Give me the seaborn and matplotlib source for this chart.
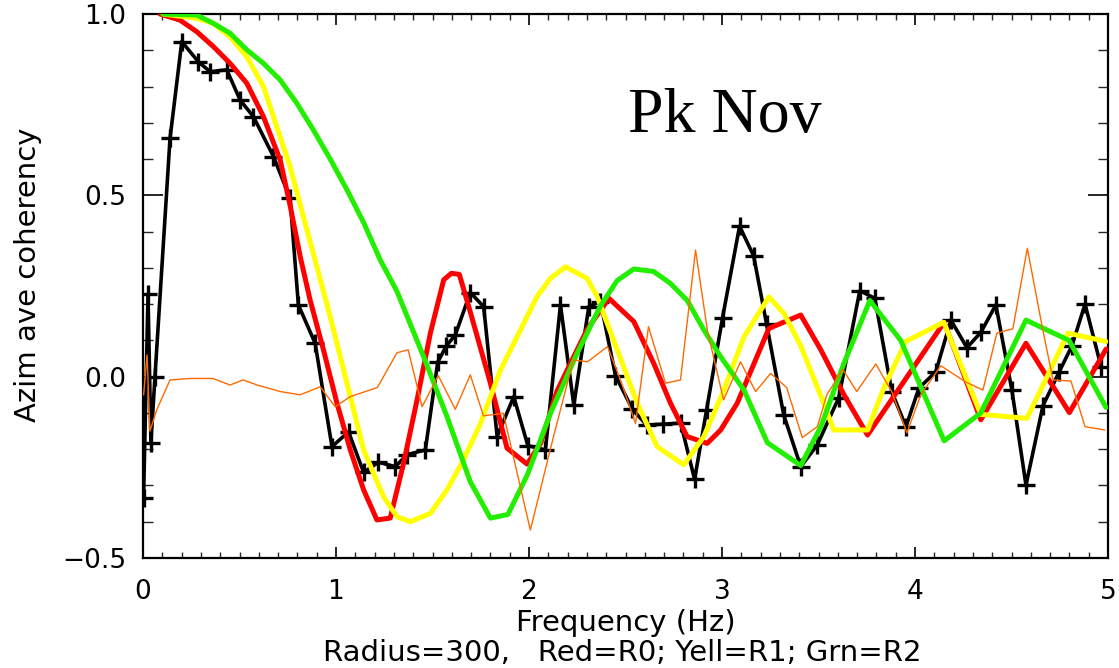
import numpy as np
import pandas as pd
import matplotlib
matplotlib.use("Agg")
import matplotlib.pyplot as plt
from matplotlib.ticker import MultipleLocator, FixedLocator
import seaborn as sns

# ---------------- data ----------------
black_f = [0.003, 0.026, 0.041, 0.062, 0.140, 0.201, 0.287, 0.348, 0.434, 0.503,
           0.572, 0.676, 0.762, 0.805, 0.892, 0.979, 1.065, 1.143, 1.220, 1.307,
           1.369, 1.463, 1.527, 1.572, 1.618, 1.696, 1.765, 1.835, 1.921, 1.994,
           2.085, 2.163, 2.232, 2.310, 2.370, 2.448, 2.536, 2.609, 2.692, 2.786,
           2.858, 2.920, 3.003, 3.091, 3.164, 3.231, 3.320, 3.408, 3.494, 3.605,
           3.714, 3.792, 3.880, 3.953, 4.020, 4.108, 4.186, 4.269, 4.341, 4.419,
           4.502, 4.575, 4.663, 4.746, 4.813, 4.881, 4.964]
black_y = [-0.334, 0.228, -0.183, 0.000, 0.657, 0.924, 0.868, 0.841, 0.846, 0.763,
           0.717, 0.607, 0.492, 0.198, 0.092, -0.193, -0.152, -0.264, -0.236, -0.248,
           -0.215, -0.202, 0.040, 0.085, 0.115, 0.232, 0.193, -0.165, -0.055, -0.190,
           -0.202, 0.198, -0.078, 0.193, 0.207, 0.003, -0.090, -0.133, -0.131, -0.128,
           -0.283, -0.092, 0.163, 0.415, 0.333, 0.145, -0.106, -0.248, -0.188, -0.058,
           0.237, 0.216, -0.042, -0.138, -0.032, 0.014, 0.156, 0.080, 0.122, 0.198,
           -0.037, -0.299, -0.080, 0.012, 0.085, 0.200, 0.028]

red_f = [0.088, 0.192, 0.279, 0.365, 0.451, 0.538, 0.624, 0.711, 0.763, 0.815,
         0.866, 0.935, 1.005, 1.074, 1.143, 1.212, 1.281, 1.350, 1.420, 1.489,
         1.558, 1.598, 1.639, 1.695, 1.800, 1.886, 1.990, 2.060, 2.145, 2.215,
         2.301, 2.414, 2.543, 2.646, 2.733, 2.819, 2.923, 2.993, 3.079, 3.243,
         3.408, 3.512, 3.632, 3.754, 4.151, 4.341, 4.575, 4.800, 4.990]
red_y = [1.000, 0.983, 0.951, 0.910, 0.864, 0.809, 0.717, 0.597, 0.470, 0.330,
         0.211, 0.074, -0.073, -0.202, -0.312, -0.395, -0.390, -0.239, -0.064, 0.120,
         0.267, 0.285, 0.282, 0.180, -0.018, -0.197, -0.241, -0.184, -0.040, 0.037,
         0.130, 0.216, 0.152, 0.037, -0.073, -0.165, -0.184, -0.147, -0.073, 0.133,
         0.170, 0.074, -0.050, -0.161, 0.150, -0.119, 0.092, -0.099, 0.076]

yell_f = [0.104, 0.279, 0.365, 0.451, 0.538, 0.624, 0.693, 0.762, 0.831, 0.901,
          0.970, 1.057, 1.143, 1.246, 1.316, 1.385, 1.489, 1.575, 1.660, 1.748,
          1.852, 1.938, 2.042, 2.111, 2.189, 2.301, 2.353, 2.457, 2.561, 2.664,
          2.802, 2.906, 3.010, 3.114, 3.243, 3.320, 3.408, 3.527, 3.579, 3.755,
          3.838, 3.952, 4.149, 4.341, 4.580, 4.793, 4.990]
yell_y = [1.000, 0.988, 0.974, 0.937, 0.882, 0.800, 0.689, 0.579, 0.441, 0.303,
          0.165, -0.018, -0.202, -0.331, -0.386, -0.400, -0.377, -0.312, -0.230, -0.130,
          0.018, 0.110, 0.221, 0.271, 0.303, 0.271, 0.221, 0.074, -0.073, -0.193,
          -0.243, -0.165, -0.037, 0.110, 0.220, 0.175, 0.085, -0.073, -0.147, -0.147,
          -0.032, 0.097, 0.150, -0.104, -0.115, 0.120, 0.097]

grn_f = [0.104, 0.279, 0.365, 0.451, 0.538, 0.624, 0.711, 0.797, 0.883, 0.970,
         1.057, 1.143, 1.229, 1.316, 1.454, 1.575, 1.696, 1.800, 1.891, 1.992,
         2.111, 2.249, 2.370, 2.457, 2.543, 2.646, 2.733, 2.820, 2.906, 2.993,
         3.114, 3.235, 3.408, 3.512, 3.632, 3.766, 3.926, 4.151, 4.341, 4.575,
         4.798, 4.990]
grn_y = [1.000, 0.997, 0.974, 0.947, 0.901, 0.864, 0.818, 0.754, 0.680, 0.600,
         0.515, 0.425, 0.322, 0.235, 0.055, -0.110, -0.290, -0.390, -0.380, -0.270,
         -0.101, 0.064, 0.195, 0.265, 0.297, 0.290, 0.257, 0.210, 0.129, 0.055,
         -0.037, -0.182, -0.245, -0.138, 0.037, 0.210, 0.100, -0.177, -0.100, 0.156,
         0.100, -0.085]

org_f = [0.003, 0.021, 0.036, 0.071, 0.140, 0.244, 0.363, 0.451, 0.519, 0.591,
         0.711, 0.814, 0.918, 0.996, 1.074, 1.214, 1.316, 1.374, 1.446, 1.530,
         1.618, 1.696, 1.764, 1.867, 2.007, 2.127, 2.230, 2.303, 2.407, 2.474,
         2.552, 2.619, 2.707, 2.785, 2.863, 2.925, 3.008, 3.096, 3.174, 3.252,
         3.335, 3.416, 3.494, 3.543, 3.626, 3.698, 3.797, 3.880, 3.958, 4.030,
         4.134, 4.264, 4.352, 4.424, 4.507, 4.582, 4.660, 4.715, 4.808, 4.881,
         4.984]
org_y = [-0.050, 0.060, -0.150, -0.092, -0.009, -0.005, -0.005, -0.023, -0.009, -0.023,
         -0.041, -0.050, -0.028, -0.083, -0.055, -0.030, 0.066, 0.074, -0.083, 0.003,
         -0.090, 0.005, -0.108, -0.101, -0.423, -0.165, 0.046, 0.041, 0.083, -0.009,
         -0.129, 0.138, -0.018, -0.009, 0.349, 0.125, -0.064, 0.041, -0.041, 0.009,
         -0.030, -0.168, -0.138, -0.050, 0.020, -0.041, 0.035, -0.042, -0.155, -0.050,
         0.030, -0.015, -0.037, 0.120, 0.132, 0.354, 0.135, -0.009, -0.012, -0.138,
         -0.147]

xtick_vals = [0, 1, 2, 3, 4, 5]
xtick_labels = ["0", "1", "2", "3", "4", "5"]
ytick_vals = [-0.5, 0.0, 0.5, 1.0]
ytick_labels = ["\u22120.5", "0.0", "0.5", "1.0"]

title_text = "Pk Nov"
xlabel_text = "Frequency (Hz)"
ylabel_text = "Azim ave coherency"
caption_text = "Radius=300,   Red=R0; Yell=R1; Grn=R2"

# ---------------- plotting ----------------
sns.set_theme(style="ticks")
plt.rcParams['font.family'] = ['DejaVu Sans']

W, H = 1119, 668
fig = plt.figure(figsize=(W / 100, H / 100), dpi=100)
fig.patch.set_facecolor("white")
ax = fig.add_axes([143 / W, 1 - 558 / H, 965 / W, 544 / H])
ax.set_facecolor("white")

common = dict(ax=ax, sort=False, estimator=None, legend=False)

sns.lineplot(x=black_f, y=black_y, color="black", linewidth=2.6,
             marker="+", markersize=13, markeredgewidth=2.4,
             markeredgecolor="black", zorder=3, **common)
sns.lineplot(x=red_f, y=red_y, color="#ff0000", linewidth=3.6, zorder=4, **common)
sns.lineplot(x=yell_f, y=yell_y, color="#ffff00", linewidth=3.6, zorder=5, **common)
sns.lineplot(x=grn_f, y=grn_y, color="#22ee00", linewidth=3.6, zorder=6, **common)
sns.lineplot(x=org_f, y=org_y, color="#ff6a00", linewidth=1.0, zorder=7, **common)

ax.set_xlim(0, 5)
ax.set_ylim(-0.5, 1.0)
ax.xaxis.set_major_locator(FixedLocator(xtick_vals))
ax.set_xticklabels(xtick_labels)
ax.xaxis.set_minor_locator(MultipleLocator(0.1))
ax.yaxis.set_major_locator(FixedLocator(ytick_vals))
ax.set_yticklabels(ytick_labels)
ax.yaxis.set_minor_locator(MultipleLocator(0.1))

for s in ax.spines.values():
    s.set_visible(True)
    s.set_color("black")
    s.set_linewidth(1.6)

ax.tick_params(axis="x", which="major", direction="in", length=8, width=1.2,
               top=True, bottom=True, pad=15, labelsize=19, colors="black")
ax.tick_params(axis="x", which="minor", direction="in", length=4, width=1.0,
               top=True, bottom=True)
ax.tick_params(axis="y", which="major", direction="in", length=14.5, width=1.2,
               left=True, right=True, pad=12, labelsize=19, colors="black")
ax.tick_params(axis="y", which="minor", direction="in", length=7, width=1.0,
               left=True, right=True)

ax.set_xlabel(xlabel_text, fontsize=21, color="black")
ax.xaxis.set_label_coords(0.5, -0.12)
ax.xaxis.label.set_va("center")
ax.set_ylabel(ylabel_text, fontsize=21, color="black", va="center")
ax.yaxis.set_label_coords(-0.119, 0.52)

fig.text(622 / W, 1 - 653 / H, caption_text, fontsize=21, ha="center",
         va="center", color="black")

ax.text(0.5026, 0.783, title_text, transform=ax.transAxes, fontsize=46,
        family=["Liberation Serif", "DejaVu Serif"], ha="left",
        va="baseline", color="black")

fig.savefig("out.png", dpi=100, facecolor="white")
